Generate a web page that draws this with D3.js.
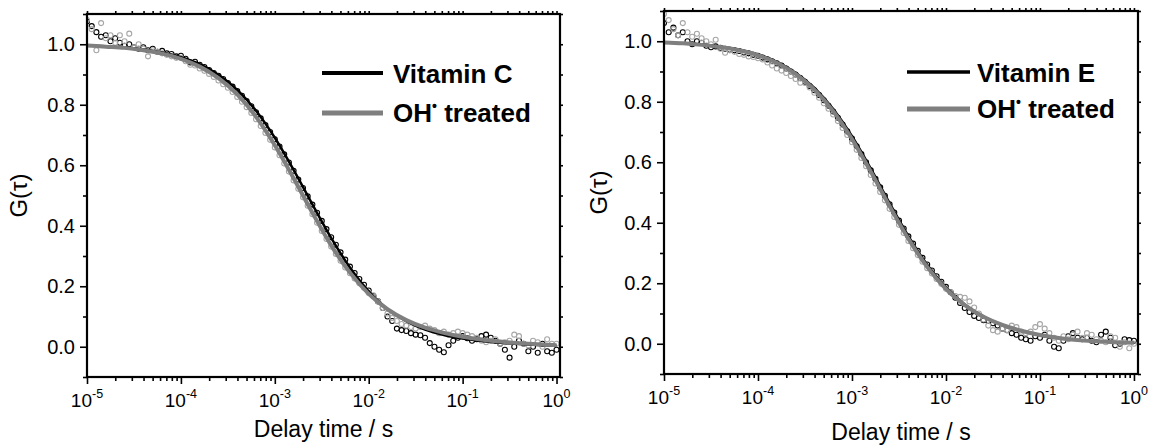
<!DOCTYPE html>
<html><head><meta charset="utf-8">
<script src="https://cdn.jsdelivr.net/npm/d3@7"></script>
<style>body{margin:0;background:#fff}svg{display:block}text{font-family:"Liberation Sans",Arial,sans-serif;fill:#000}</style>
</head><body><svg id="c" width="1158" height="448"></svg>
<script>
// log10 of delay time (s) for the measured correlation points
const logTau = [
-5,-4.95,-4.9,-4.85,-4.8,-4.75,-4.7,-4.65,-4.6,-4.55,
-4.5,-4.45,-4.4,-4.35,-4.3,-4.25,-4.2,-4.15,-4.1,-4.05,
-4,-3.95,-3.9,-3.85,-3.8,-3.75,-3.7,-3.65,-3.6,-3.55,
-3.5,-3.45,-3.4,-3.35,-3.3,-3.25,-3.2,-3.15,-3.1,-3.05,
-3,-2.95,-2.9,-2.85,-2.8,-2.75,-2.7,-2.65,-2.6,-2.55,
-2.5,-2.45,-2.4,-2.35,-2.3,-2.25,-2.2,-2.15,-2.1,-2.05,
-2,-1.95,-1.9,-1.85,-1.8,-1.75,-1.7,-1.65,-1.6,-1.55,
-1.5,-1.45,-1.4,-1.35,-1.3,-1.25,-1.2,-1.15,-1.1,-1.05,
-1,-0.95,-0.9,-0.85,-0.8,-0.75,-0.7,-0.65,-0.6,-0.55,
-0.5,-0.45,-0.4,-0.35,-0.3,-0.25,-0.2,-0.15,-0.1,-0.05,
0];
// log10 of delay time for the fitted curves
const fitLogTau = [-5,-4.8,-4.6,-4.4,-4.2,-4,-3.8,-3.6,-3.4,-3.2,-3,-2.8,-2.6,-2.4,-2.2,-2,-1.8,-1.6,-1.4,-1.2,-1,-0.8,-0.6,-0.4,-0.2,0];

const vitC = [
1.075,1.06,1.04,1.025,1.03,1.01,1.02,1.005,0.995,1.0,
0.99,0.985,0.99,0.98,0.985,0.975,0.978,0.97,0.968,0.96,
0.962,0.952,0.94,0.942,0.932,0.925,0.915,0.905,0.896,0.885,
0.872,0.86,0.845,0.83,0.812,0.795,0.775,0.755,0.733,0.71,
0.686,0.662,0.636,0.609,0.582,0.553,0.525,0.497,0.47,0.443,
0.416,0.389,0.362,0.337,0.312,0.288,0.265,0.244,0.224,0.205,
0.186,0.168,0.15,0.128,0.10,0.085,0.06,0.055,0.052,0.045,
0.04,0.038,0.03,0.012,0.0,-0.01,-0.018,0.005,0.02,0.03,
0.035,0.028,0.02,0.025,0.035,0.04,0.03,0.02,0.01,-0.01,
-0.036,0.0,0.02,0.01,-0.015,0.0,-0.02,0.01,-0.015,-0.02,
-0.01];
const ohC = [
1.08,1.05,0.98,1.07,1.02,1.03,1.005,1.03,1.01,1.035,
0.99,1.0,0.985,0.96,0.98,0.975,0.97,0.965,0.96,0.955,
0.955,0.944,0.932,0.93,0.92,0.912,0.902,0.892,0.88,0.868,
0.856,0.842,0.826,0.81,0.792,0.773,0.752,0.73,0.707,0.684,
0.659,0.633,0.606,0.579,0.55,0.522,0.494,0.466,0.438,0.41,
0.383,0.356,0.331,0.307,0.284,0.262,0.243,0.226,0.21,0.195,
0.178,0.17,0.15,0.128,0.11,0.095,0.085,0.075,0.07,0.065,
0.06,0.065,0.07,0.06,0.055,0.045,0.05,0.04,0.045,0.05,
0.045,0.04,0.035,0.03,0.02,0.015,0.02,0.025,0.01,0.015,
0.02,0.04,0.035,0.01,0.005,0.02,0.015,0.0,0.025,0.01,
0.01];
const vitCFit = [0.996,0.993,0.989,0.983,0.973,0.957,0.934,0.899,0.849,0.780,0.691,0.585,0.471,0.360,0.262,0.183,0.124,0.085,0.057,0.039,0.027,0.019,0.013,0.009,0.006,0.004];
const ohCFit  = [0.996,0.992,0.988,0.980,0.969,0.952,0.926,0.888,0.834,0.760,0.666,0.557,0.443,0.335,0.245,0.175,0.124,0.088,0.063,0.046,0.033,0.024,0.017,0.012,0.008,0.005];

const vitE = [
1.06,1.03,1.045,1.02,1.03,1.0,0.99,1.0,0.995,0.985,
0.98,0.983,0.978,0.975,0.972,0.97,0.968,0.963,0.96,0.955,
0.952,0.946,0.94,0.934,0.927,0.92,0.91,0.9,0.89,0.878,
0.866,0.852,0.838,0.822,0.805,0.787,0.768,0.747,0.725,0.702,
0.678,0.653,0.627,0.6,0.573,0.545,0.517,0.489,0.461,0.434,
0.407,0.381,0.355,0.331,0.307,0.284,0.262,0.242,0.223,0.205,
0.188,0.17,0.152,0.135,0.118,0.105,0.092,0.085,0.078,0.075,
0.068,0.06,0.05,0.045,0.035,0.03,0.02,0.015,0.01,0.025,
0.02,0.03,0.01,-0.01,-0.015,0.01,0.025,0.035,0.02,0.015,
0.02,0.01,0.005,0.03,0.04,0.02,-0.005,0.0,0.015,0.012,
0.01];
const ohE = [
1.09,1.07,1.04,1.02,1.06,1.03,1.015,1.025,1.01,1.0,
0.99,1.005,0.975,0.962,0.97,0.965,0.958,0.955,0.95,0.948,
0.944,0.94,0.93,0.92,0.91,0.903,0.895,0.885,0.875,0.863,
0.862,0.847,0.83,0.813,0.795,0.777,0.758,0.736,0.713,0.69,
0.666,0.641,0.614,0.587,0.558,0.53,0.502,0.474,0.446,0.419,
0.393,0.366,0.34,0.316,0.293,0.271,0.25,0.232,0.214,0.198,
0.182,0.17,0.158,0.155,0.152,0.14,0.12,0.1,0.08,0.06,
0.045,0.04,0.05,0.045,0.06,0.055,0.04,0.035,0.04,0.055,
0.065,0.05,0.035,0.02,0.01,0.025,0.015,0.03,0.04,0.02,
0.035,0.03,0.015,0.01,0.005,0.025,0.02,-0.01,0.005,-0.015,
0.0];
const vitEFit = [0.996,0.993,0.989,0.982,0.972,0.956,0.932,0.896,0.846,0.776,0.686,0.579,0.465,0.356,0.261,0.186,0.130,0.090,0.062,0.043,0.029,0.019,0.012,0.008,0.005,0.003];
const ohEFit  = [0.996,0.993,0.988,0.981,0.970,0.954,0.929,0.892,0.840,0.769,0.677,0.569,0.455,0.347,0.254,0.181,0.128,0.089,0.062,0.043,0.029,0.019,0.012,0.008,0.005,0.003];

const yMajor = [0, 0.2, 0.4, 0.6, 0.8, 1.0];
const yMinor = [-0.1, 0.1, 0.3, 0.5, 0.7, 0.9, 1.1];
const xDecades = [-5, -4, -3, -2, -1, 0];
const xMinorMult = [2, 3, 4, 5, 6, 7, 8, 9];
const seriesNames = [["Vitamin C", "OH", "\u2022", " treated"], ["Vitamin E", "OH", "\u2022", " treated"]];
const xTitle = "Delay time / s";
const yTitle = "G(\u03c4)";

const panels = [
  {l:87, r:560, t:14, b:377, xMaxExp:0.037, black:vitC, gray:ohC, blackFit:vitCFit, grayFit:ohCFit, names:seriesNames[0],
   leg:{x1:322, x2:383, y1:73, y2:113, tx:393, ty1:83, ty2:122, w1:4, w2:5}, ylabX:27, xlabY:437},
  {l:664, r:1138, t:11, b:374, xMaxExp:0.043, black:vitE, gray:ohE, blackFit:vitEFit, grayFit:ohEFit, names:seriesNames[1],
   leg:{x1:907, x2:970, y1:72, y2:109, tx:977, ty1:82, ty2:118, w1:3.5, w2:5}, ylabX:607, xlabY:440}
];

const svg = d3.select("#c");
const GRAY_LINE = "#7f7f7f", GRAY_PT = "#a6a6a6";

panels.forEach(p => {
  const x = d3.scaleLog().domain([1e-5, Math.pow(10, p.xMaxExp)]).range([p.l, p.r]);
  const y = d3.scaleLinear().domain([-0.1, 1.1]).range([p.b, p.t]);
  const g = svg.append("g");
  const majors = xDecades.map(d => Math.pow(10, d));
  const minors = [];
  xDecades.forEach(d => xMinorMult.forEach(m => { const v = m * Math.pow(10, d); if (v <= x.domain()[1]) minors.push(v); }));

  const styleAxis = sel => { sel.select(".domain").remove(); sel.selectAll(".tick line").attr("stroke", "#000").attr("stroke-width", 1.6); };

  g.append("g").attr("transform", `translate(0,${p.b})`).call(d3.axisBottom(x).tickValues(majors).tickSize(7).tickFormat("")).call(styleAxis);
  g.append("g").attr("transform", `translate(0,${p.b})`).call(d3.axisBottom(x).tickValues(minors).tickSize(4).tickFormat("")).call(styleAxis);
  g.append("g").attr("transform", `translate(0,${p.t})`).call(d3.axisTop(x).tickValues(majors.concat(minors)).tickSize(3).tickFormat("")).call(styleAxis);
  const yl = g.append("g").attr("transform", `translate(${p.l},0)`).call(d3.axisLeft(y).tickValues(yMajor).tickSize(7).tickPadding(5).tickFormat(d3.format(".1f"))).call(styleAxis);
  yl.selectAll(".tick text").attr("font-size", 20).attr("font-family", "Liberation Sans, Arial, sans-serif").attr("fill", "#000");
  g.append("g").attr("transform", `translate(${p.l},0)`).call(d3.axisLeft(y).tickValues(yMinor).tickSize(4).tickFormat("")).call(styleAxis);
  g.append("g").attr("transform", `translate(${p.r},0)`).call(d3.axisRight(y).tickValues(yMajor.concat(yMinor)).tickSize(3).tickFormat("")).call(styleAxis);

  xDecades.forEach(d => {
    const t = g.append("text").attr("x", x(Math.pow(10, d))).attr("y", p.b + 30).attr("text-anchor", "middle").attr("font-size", 19);
    t.append("tspan").text("10");
    t.append("tspan").attr("font-size", 12.5).attr("dy", -9).text(String(d));
  });

  g.append("text").attr("x", (p.l + p.r) / 2).attr("y", p.xlabY).attr("text-anchor", "middle").attr("font-size", 23).text(xTitle);
  g.append("text").attr("transform", `translate(${p.ylabX},${(p.t + p.b) / 2}) rotate(-90)`).attr("text-anchor", "middle").attr("font-size", 24).text(yTitle);

  const clip = "clip" + p.l;
  svg.append("clipPath").attr("id", clip).append("rect").attr("x", p.l).attr("y", p.t).attr("width", p.r - p.l).attr("height", p.b - p.t);
  const plot = g.append("g").attr("clip-path", `url(#${clip})`);
  const pts = arr => logTau.map((e, i) => ({t: Math.pow(10, e), v: arr[i]}));
  const fit = arr => fitLogTau.map((e, i) => ({t: Math.pow(10, e), v: arr[i]}));
  const line = d3.line().x(d => x(d.t)).y(d => y(d.v)).curve(d3.curveMonotoneX);

  plot.append("g").selectAll("circle").data(pts(p.black)).join("circle")
    .attr("cx", d => x(d.t)).attr("cy", d => y(d.v)).attr("r", 2.5).attr("fill", "none").attr("stroke", "#000").attr("stroke-width", 1.1);
  plot.append("g").selectAll("circle").data(pts(p.gray)).join("circle")
    .attr("cx", d => x(d.t)).attr("cy", d => y(d.v)).attr("r", 2.5).attr("fill", "none").attr("stroke", GRAY_PT).attr("stroke-width", 1.1);
  plot.append("path").datum(fit(p.blackFit)).attr("d", line).attr("fill", "none").attr("stroke", "#000").attr("stroke-width", 2.5);
  plot.append("path").datum(fit(p.grayFit)).attr("d", line).attr("fill", "none").attr("stroke", GRAY_LINE).attr("stroke-width", 4);

  g.append("rect").attr("x", p.l).attr("y", p.t).attr("width", p.r - p.l).attr("height", p.b - p.t).attr("fill", "none").attr("stroke", "#000").attr("stroke-width", 2.2);

  const L = p.leg;
  g.append("line").attr("x1", L.x1).attr("x2", L.x2).attr("y1", L.y1).attr("y2", L.y1).attr("stroke", "#000").attr("stroke-width", L.w1);
  g.append("line").attr("x1", L.x1).attr("x2", L.x2).attr("y1", L.y2).attr("y2", L.y2).attr("stroke", GRAY_LINE).attr("stroke-width", L.w2);
  g.append("text").attr("x", L.tx).attr("y", L.ty1).attr("font-size", 26).attr("font-weight", "bold").text(p.names[0]);
  const t2 = g.append("text").attr("x", L.tx).attr("y", L.ty2).attr("font-size", 26).attr("font-weight", "bold");
  t2.append("tspan").text(p.names[1]);
  t2.append("tspan").attr("font-size", 14).attr("dy", -11).text(p.names[2]);
  t2.append("tspan").attr("dy", 11).text(p.names[3]);
});
</script></body></html>
